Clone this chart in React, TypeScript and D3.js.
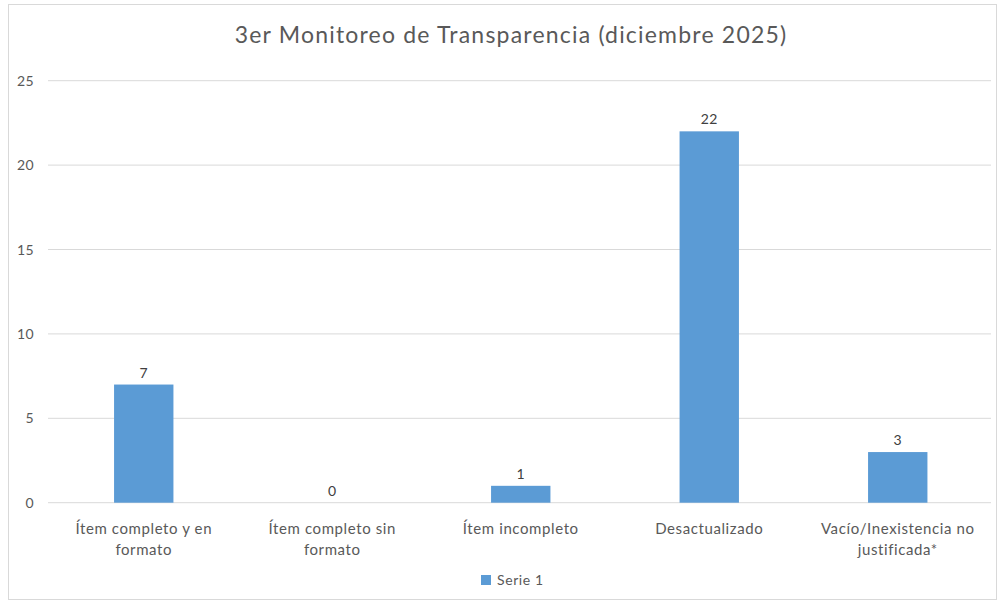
import React from "react";
import * as d3 from "d3";

const categories: string[][] = [
  ["Ítem completo y en", "formato"],
  ["Ítem completo sin", "formato"],
  ["Ítem incompleto"],
  ["Desactualizado"],
  ["Vacío/Inexistencia no", "justificada*"],
];
const values: number[] = [7, 0, 1, 22, 3];
const yTicks: number[] = [0, 5, 10, 15, 20, 25];
const title = "3er Monitoreo de Transparencia (diciembre 2025)";
const seriesName = "Serie 1";

const W = 1000;
const H = 602;
const FONT = "Lato, 'Open Sans', sans-serif";
const BAR = "#5b9bd5";
const TXT = "#595959";

export default function App() {
  const left = 48;
  const right = 991;
  const x = d3
    .scaleBand<number>()
    .domain(categories.map((_, i) => i))
    .range([left + 1.5, right + 1])
    .padding(0);
  const y = d3.scaleLinear().domain([0, 25]).range([502.7, 80.7]);
  const bw = x.bandwidth() * 0.315;

  return (
    <svg
      width={W}
      height={H}
      style={{ position: "absolute", left: 0, top: 0, display: "block" }}
    >
      <rect x={0} y={0} width={W} height={H} fill="#ffffff" />
      <rect x={8.5} y={4.5} width={988} height={595} fill="#ffffff" stroke="#d9d9d9" strokeWidth={1} />
      <text
        x={511}
        y={43}
        textAnchor="middle"
        fontFamily={FONT}
        fontSize={23}
        letterSpacing={1.2}
        fill={TXT}
      >
        {title}
      </text>
      {yTicks.map((t) => (
        <g key={t}>
          <line x1={left} x2={right} y1={y(t)} y2={y(t)} stroke="#d9d9d9" strokeWidth={1} />
          <text
            x={34}
            y={y(t) + 5}
            textAnchor="end"
            fontFamily={FONT}
            fontSize={14}
            letterSpacing={0.4}
            fill={TXT}
          >
            {t}
          </text>
        </g>
      ))}
      {values.map((v, i) => {
        const cx = (x(i) as number) + x.bandwidth() / 2;
        return (
          <g key={i}>
            {v > 0 && (
              <rect x={cx - bw / 2} y={y(v)} width={bw} height={y(0) - y(v)} fill={BAR} />
            )}
            <text
              x={cx}
              y={y(v) - 7}
              textAnchor="middle"
              fontFamily={FONT}
              fontSize={14}
              letterSpacing={0.4}
              fill="#404040"
            >
              {v}
            </text>
            {categories[i].map((line, j) => (
              <text
                key={j}
                x={cx}
                y={534 + j * 21}
                textAnchor="middle"
                fontFamily={FONT}
                fontSize={15}
                letterSpacing={0.6}
                fill={TXT}
              >
                {line}
              </text>
            ))}
          </g>
        );
      })}
      <rect x={481} y={575} width={10} height={10} fill={BAR} />
      <text x={497} y={585} fontFamily={FONT} fontSize={14} letterSpacing={0.6} fill={TXT}>
        {seriesName}
      </text>
    </svg>
  );
}
